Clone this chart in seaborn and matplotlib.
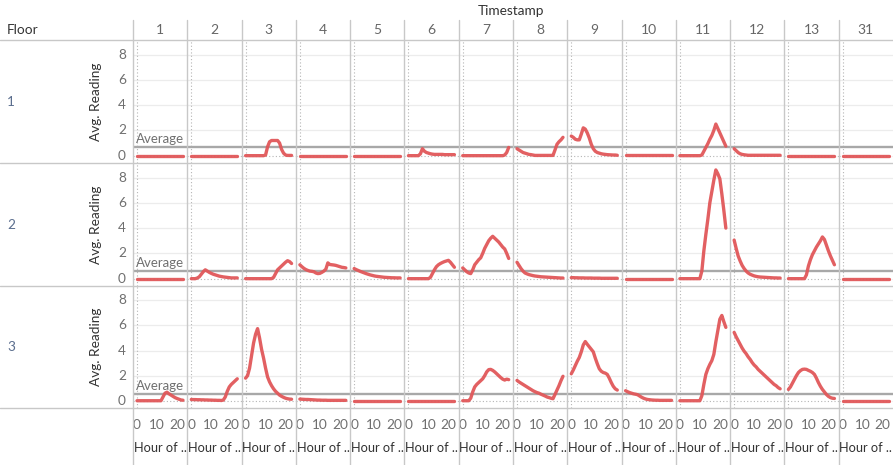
import matplotlib
matplotlib.use("Agg")
import matplotlib.pyplot as plt
import numpy as np
import pandas as pd
import seaborn as sns
from matplotlib.lines import Line2D
from matplotlib.transforms import blended_transform_factory

# ---------------- data ----------------
days = [1, 2, 3, 4, 5, 6, 7, 8, 9, 10, 11, 12, 13, 31]
floors = [1, 2, 3]
hours = list(range(24))
y_ticks = [0, 2, 4, 6, 8]
x_ticks = [0, 10, 20]
avg_ref = [0.70, 0.60, 0.56]

ZERO = [0, 0, 0, 0, 0, 0, 0, 0, 0, 0, 0, 0, 0, 0, 0, 0, 0, 0, 0, 0, 0, 0, 0, 0]

floor1 = [
    ZERO,
    ZERO,
    [0, 0, 0, 0, 0, 0, 0, 0, 0, 0, 0.05, 0.7, 1.1, 1.2, 1.2, 1.2, 1.2, 1.0, 0.5, 0.2, 0.05, 0.02, 0.02, 0.02],
    ZERO,
    ZERO,
    [0, 0, 0, 0, 0, 0, 0.15, 0.55, 0.35, 0.25, 0.2, 0.15, 0.12, 0.1, 0.1, 0.1, 0.1, 0.1, 0.08, 0.08, 0.08, 0.08, 0.08, 0.08],
    [0, 0, 0, 0, 0, 0, 0, 0, 0, 0, 0, 0, 0, 0, 0, 0, 0, 0, 0, 0, 0, 0.05, 0.25, 0.65],
    [0.55, 0.45, 0.35, 0.25, 0.2, 0.15, 0.1, 0.08, 0.05, 0.02, 0.02, 0.02, 0.02, 0.02, 0.02, 0.02, 0.02, 0.02, 0.02, 0.45, 0.9, 1.1, 1.25, 1.45],
    [1.55, 1.45, 1.3, 1.25, 1.25, 1.7, 2.2, 2.1, 1.8, 1.4, 0.9, 0.55, 0.35, 0.25, 0.2, 0.15, 0.12, 0.1, 0.08, 0.07, 0.06, 0.05, 0.05, 0.03],
    [0.03, 0.03, 0.03, 0.03, 0.03, 0.03, 0.03, 0.03, 0.03, 0.03, 0.03, 0.03, 0.03, 0.03, 0.03, 0.03, 0.03, 0.03, 0.03, 0.03, 0.03, 0.03, 0.03, 0.03],
    [0, 0, 0, 0, 0, 0, 0, 0, 0, 0, 0, 0.05, 0.35, 0.65, 0.95, 1.3, 1.6, 2.0, 2.5, 2.15, 1.8, 1.45, 1.1, 0.75],
    [0.55, 0.4, 0.25, 0.15, 0.1, 0.07, 0.05, 0.03, 0.03, 0.03, 0.03, 0.03, 0.03, 0.03, 0.03, 0.03, 0.03, 0.03, 0.03, 0.03, 0.03, 0.03, 0.03, 0.03],
    ZERO,
    ZERO,
]

floor2 = [
    ZERO,
    [0, 0, 0, 0.05, 0.15, 0.35, 0.55, 0.7, 0.6, 0.5, 0.42, 0.35, 0.3, 0.25, 0.2, 0.17, 0.14, 0.12, 0.1, 0.08, 0.06, 0.06, 0.06, 0.06],
    [0, 0, 0, 0, 0, 0, 0, 0, 0, 0, 0, 0, 0, 0, 0.1, 0.4, 0.7, 0.85, 1.0, 1.15, 1.3, 1.42, 1.35, 1.2],
    [1.1, 0.95, 0.82, 0.72, 0.65, 0.6, 0.58, 0.55, 0.45, 0.4, 0.42, 0.5, 0.6, 0.75, 1.25, 1.12, 1.1, 1.08, 1.05, 1.0, 0.95, 0.9, 0.88, 0.85],
    [0.8, 0.72, 0.65, 0.58, 0.52, 0.46, 0.4, 0.35, 0.3, 0.26, 0.22, 0.19, 0.17, 0.15, 0.13, 0.11, 0.1, 0.09, 0.08, 0.07, 0.07, 0.06, 0.06, 0.06],
    [0, 0, 0, 0, 0, 0, 0, 0, 0, 0, 0, 0.1, 0.4, 0.7, 0.95, 1.1, 1.2, 1.28, 1.35, 1.4, 1.45, 1.3, 1.1, 0.9],
    [0.85, 0.7, 0.55, 0.45, 0.4, 0.7, 1.1, 1.3, 1.5, 1.65, 2.0, 2.4, 2.7, 3.0, 3.2, 3.35, 3.2, 3.05, 2.9, 2.7, 2.5, 2.35, 2.0, 1.6],
    [1.3, 1.05, 0.8, 0.6, 0.45, 0.38, 0.32, 0.28, 0.24, 0.21, 0.19, 0.17, 0.15, 0.14, 0.13, 0.12, 0.11, 0.1, 0.09, 0.08, 0.07, 0.06, 0.05, 0.05],
    [0.08, 0.08, 0.07, 0.07, 0.06, 0.06, 0.06, 0.05, 0.05, 0.05, 0.05, 0.04, 0.04, 0.04, 0.04, 0.03, 0.03, 0.03, 0.03, 0.03, 0.03, 0.03, 0.03, 0.03],
    ZERO,
    [0, 0, 0, 0, 0, 0, 0, 0, 0, 0, 0, 0.6, 2.2, 3.5, 4.7, 6.0, 6.9, 7.8, 8.6, 8.3, 7.9, 6.7, 5.4, 4.0],
    [3.05, 2.4, 1.8, 1.4, 1.05, 0.8, 0.6, 0.45, 0.35, 0.28, 0.22, 0.18, 0.15, 0.13, 0.12, 0.11, 0.1, 0.09, 0.08, 0.07, 0.06, 0.06, 0.05, 0.05],
    [0, 0, 0, 0, 0, 0, 0, 0, 0, 0.3, 1.0, 1.5, 1.9, 2.2, 2.5, 2.75, 3.0, 3.3, 3.1, 2.65, 2.2, 1.8, 1.45, 1.1],
    ZERO,
]

floor3 = [
    [0, 0, 0, 0, 0, 0, 0, 0, 0, 0, 0, 0, 0, 0.3, 0.6, 0.68, 0.55, 0.45, 0.35, 0.25, 0.18, 0.12, 0.06, 0.04],
    [0.1, 0.09, 0.09, 0.08, 0.08, 0.07, 0.07, 0.06, 0.06, 0.05, 0.05, 0.04, 0.04, 0.03, 0.03, 0.02, 0.05, 0.3, 0.75, 1.1, 1.3, 1.45, 1.6, 1.75],
    [1.8, 2.0, 2.6, 3.6, 4.6, 5.3, 5.75, 5.0, 4.1, 3.4, 2.6, 1.9, 1.5, 1.2, 0.95, 0.75, 0.6, 0.45, 0.35, 0.27, 0.2, 0.16, 0.13, 0.12],
    [0.13, 0.12, 0.11, 0.1, 0.1, 0.09, 0.08, 0.07, 0.06, 0.05, 0.05, 0.04, 0.04, 0.04, 0.03, 0.03, 0.03, 0.03, 0.03, 0.03, 0.03, 0.03, 0.03, 0.03],
    ZERO,
    ZERO,
    [0, 0, 0, 0, 0.2, 0.7, 1.1, 1.3, 1.45, 1.6, 1.75, 2.0, 2.3, 2.48, 2.5, 2.42, 2.3, 2.15, 2.0, 1.85, 1.72, 1.65, 1.72, 1.68],
    [1.62, 1.5, 1.4, 1.3, 1.2, 1.1, 1.0, 0.9, 0.8, 0.72, 0.65, 0.6, 0.52, 0.45, 0.38, 0.3, 0.25, 0.2, 0.16, 0.5, 0.85, 1.2, 1.6, 1.95],
    [2.15, 2.45, 2.8, 3.15, 3.45, 3.9, 4.45, 4.72, 4.5, 4.3, 4.1, 3.9, 3.4, 2.95, 2.55, 2.35, 2.25, 2.2, 2.1, 1.8, 1.45, 1.15, 0.95, 0.85],
    [0.8, 0.72, 0.65, 0.6, 0.55, 0.52, 0.48, 0.38, 0.28, 0.2, 0.14, 0.1, 0.08, 0.06, 0.05, 0.04, 0.04, 0.03, 0.03, 0.03, 0.03, 0.03, 0.03, 0.03],
    [0, 0, 0, 0, 0, 0, 0, 0, 0, 0, 0, 0.4, 1.3, 2.1, 2.55, 2.9, 3.2, 3.7, 4.7, 5.6, 6.5, 6.8, 6.3, 5.85],
    [5.45, 5.1, 4.8, 4.5, 4.2, 3.95, 3.75, 3.5, 3.3, 3.05, 2.85, 2.7, 2.5, 2.35, 2.2, 2.05, 1.9, 1.75, 1.6, 1.45, 1.3, 1.2, 1.05, 0.95],
    [0.9, 1.1, 1.4, 1.7, 2.0, 2.25, 2.4, 2.5, 2.52, 2.5, 2.42, 2.35, 2.25, 2.1, 1.8, 1.45, 1.15, 0.9, 0.7, 0.5, 0.35, 0.25, 0.2, 0.18],
    ZERO,
]

floor_data = [floor1, floor2, floor3]

# long-form table for seaborn
rows = []
for fl, fdata in zip(floors, floor_data):
    for dy, vals in zip(days, fdata):
        for h, v in zip(hours, vals):
            rows.append((fl, dy, h, v))
df = pd.DataFrame(rows, columns=["floor", "day", "hour", "reading"])

# ---------------- style ----------------
sns.set_style("white")
plt.rcParams["font.family"] = ["Lato", "DejaVu Sans"]

W_PX, H_PX = 893, 465
fig = plt.figure(figsize=(W_PX / 100, H_PX / 100), dpi=100)


def fx(x):
    return x / W_PX


def fy(y):
    return 1 - y / H_PX


col_left = 133
col_w = (893 - 133) / 14
row_tops = [40, 163, 286]
row_bots = [163, 286, 408]

LINE_C = "#e15759"
GRID_C = "#ececec"
SEP_C = "#c8c8c8"
TICK_C = "#6f6f6f"
DARK_C = "#333333"

for r, fl in enumerate(floors):
    for c, dy in enumerate(days):
        left = col_left + c * col_w
        ax = fig.add_axes([fx(left), fy(row_bots[r]), col_w / W_PX,
                           (row_bots[r] - row_tops[r]) / H_PX])
        ax.set_xlim(-2, 25.15)
        ax.set_ylim(-0.58, 9.15)
        for yv in y_ticks[1:]:
            ax.axhline(yv, color=GRID_C, lw=0.9, zorder=0)
        ax.axhline(0, color="#b5b5b5", lw=0.8, ls=(0, (1, 2)), zorder=0)
        ax.axvline(0, color="#b5b5b5", lw=0.8, ls=(0, (1, 2)), zorder=0)
        ax.axhline(avg_ref[r], color="#a8a8a8", lw=1.7, zorder=1)
        sub = df[(df["floor"] == fl) & (df["day"] == dy)]
        sns.lineplot(data=sub, x="hour", y="reading", ax=ax, color=LINE_C,
                     lw=2.4, zorder=3, legend=False, alpha=0.95,
                     solid_capstyle="round", solid_joinstyle="round")
        ax.set_axis_off()
        if c == 0:
            trans = blended_transform_factory(fig.transFigure, ax.transData)
            for t in y_ticks:
                ax.text(fx(126), t, str(t), transform=trans, ha="right",
                        va="center", fontsize=9.8, color=TICK_C)
            ax.text(-0.7, avg_ref[r] + 0.3, "Average", fontsize=9.5,
                    color="#707070", ha="left", va="baseline")
            fig.text(fx(96), fy((row_tops[r] + row_bots[r]) / 2), "Avg. Reading",
                     rotation=90, ha="center", va="center", fontsize=9.8,
                     color=DARK_C)
        if r == len(floors) - 1:
            transx = blended_transform_factory(ax.transData, fig.transFigure)
            for t in x_ticks:
                ax.text(t, fy(425), str(t), transform=transx, ha="center",
                        va="center", fontsize=9.8, color=TICK_C)
            fig.text(fx(left + col_w / 2), fy(448), "Hour of ..", ha="center",
                     va="center", fontsize=9.2, color=DARK_C)

# row labels
for r, fl in enumerate(floors):
    fig.text(fx(7), fy((row_tops[r] + row_bots[r]) / 2), str(fl), ha="left",
             va="center", fontsize=9.8, color="#5b6e8e")

# column headers
for c, dy in enumerate(days):
    fig.text(fx(col_left + c * col_w + col_w / 2), fy(30), str(dy), ha="center",
             va="center", fontsize=10, color="#666666")
fig.text(fx(7), fy(30), "Floor", ha="left", va="center", fontsize=9.8, color=DARK_C)
fig.text(fx(511), fy(11), "Timestamp", ha="center", va="center", fontsize=9.8,
         color=DARK_C)

# separators
for y in [40, 163, 286, 408]:
    fig.add_artist(Line2D([0, 1], [fy(y), fy(y)], transform=fig.transFigure,
                          color=SEP_C, lw=1.0))
for c in range(14):
    x = col_left + c * col_w
    fig.add_artist(Line2D([fx(x), fx(x)], [fy(20), 0], transform=fig.transFigure,
                          color=SEP_C, lw=1.0))

fig.savefig("out.png", dpi=100)
